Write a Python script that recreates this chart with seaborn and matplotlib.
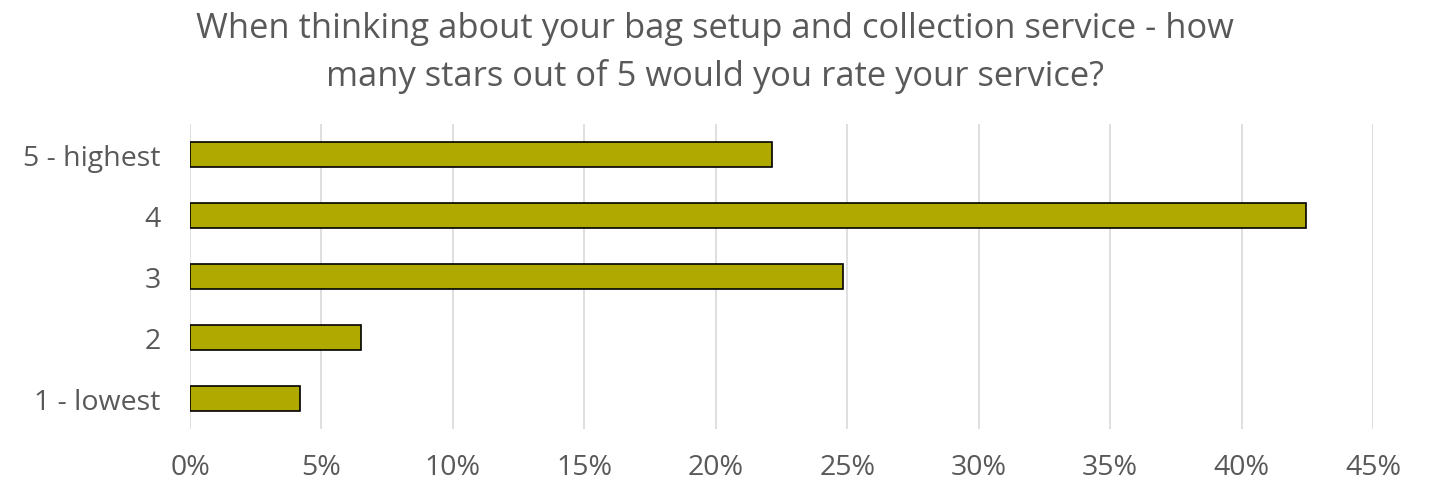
import matplotlib
matplotlib.use("Agg")
import matplotlib.pyplot as plt
import seaborn as sns
import pandas as pd
from matplotlib.ticker import FuncFormatter, MultipleLocator

categories = ["5 - highest", "4", "3", "2", "1 - lowest"]
values = [22.15, 42.45, 24.85, 6.5, 4.2]
title = "When thinking about your bag setup and collection service - how\nmany stars out of 5 would you rate your service?"

sns.set_style("white")
plt.rcParams['font.family'] = ['Open Sans', 'DejaVu Sans']

df = pd.DataFrame({"cat": categories, "val": values})

fig = plt.figure(figsize=(14.3, 4.85), dpi=100)
ax = fig.add_axes([190/1430, 1-430/485, (1373-190)/1430, (430-125)/485])
sns.barplot(data=df, x="val", y="cat", orient="h", color="#B0AA00", width=0.4,
            edgecolor="black", linewidth=1.2, saturation=1, ax=ax)
ax.set_xlim(0, 45)
ax.set_ylim(4.5, -0.5)
ax.xaxis.set_major_locator(MultipleLocator(5))
ax.xaxis.set_major_formatter(FuncFormatter(lambda v, p: f"{int(round(v))}%"))
ax.grid(axis="x", color="#d9d9d9", linewidth=1.2)
ax.set_axisbelow(True)
for s in ax.spines.values():
    s.set_visible(False)
ax.set_xlabel("")
ax.set_ylabel("")
ax.tick_params(axis="both", length=0, labelsize=20.5, labelcolor="#595959")
ax.tick_params(axis="x", pad=17)
ax.tick_params(axis="y", pad=21)
fig.text(0.5, 1-53/485, title, ha="center", va="center", fontsize=24.8,
         color="#595959", linespacing=1.5)
fig.savefig("out.png", dpi=100)
